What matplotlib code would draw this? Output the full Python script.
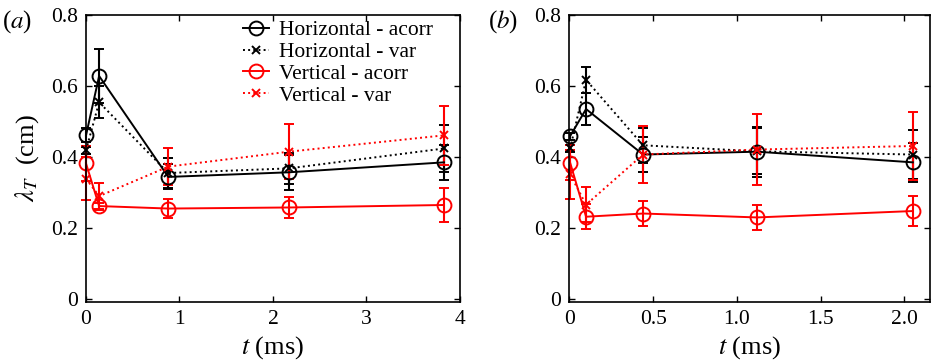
import matplotlib
matplotlib.use("Agg")
from matplotlib import pyplot as plt

plt.rcParams['font.family'] = ['Liberation Serif', 'DejaVu Serif']
plt.rcParams['mathtext.fontset'] = 'stix'

# panel (a)
t_a = [0.0, 0.14, 0.88, 2.17, 3.83]
h_acorr_a = [0.460, 0.627, 0.343, 0.356, 0.384]
h_acorr_a_err = [0.02, 0.075, 0.035, 0.049, 0.050]
h_var_a = [0.418, 0.553, 0.354, 0.367, 0.423]
h_var_a_err = [0.01, 0.045, 0.043, 0.044, 0.065]
v_acorr_a = [0.381, 0.261, 0.254, 0.257, 0.264]
v_acorr_a_err = [0.05, 0.010, 0.026, 0.030, 0.047]
v_var_a = [0.338, 0.289, 0.372, 0.414, 0.460]
v_var_a_err = [0.06, 0.037, 0.053, 0.078, 0.083]

# panel (b)
t_b = [0.005, 0.10, 0.44, 1.12, 2.05]
h_acorr_b = [0.458, 0.534, 0.406, 0.414, 0.384]
h_acorr_b_err = [0.01, 0.045, 0.050, 0.070, 0.055]
h_var_b = [0.423, 0.616, 0.432, 0.415, 0.406]
h_var_b_err = [0.01, 0.037, 0.050, 0.065, 0.070]
v_acorr_b = [0.383, 0.231, 0.240, 0.229, 0.247]
v_acorr_b_err = [0.05, 0.035, 0.035, 0.035, 0.042]
v_var_b = [0.350, 0.265, 0.406, 0.420, 0.430]
v_var_b_err = [0.07, 0.049, 0.080, 0.100, 0.095]

labels = ['Horizontal - acorr', 'Horizontal - var', 'Vertical - acorr', 'Vertical - var']

fig = plt.figure(figsize=(9.31, 3.63), dpi=100)
ax_a = fig.add_axes([0.0924, 0.169, 0.4016, 0.791])
ax_b = fig.add_axes([0.6115, 0.169, 0.3875, 0.791])


def draw(ax, t, series):
    styles = [('k', '-', 'o'), ('k', ':', 'x'), ('r', '-', 'o'), ('r', ':', 'x')]
    handles = []
    for (y, e), (c, ls, m), lab in zip(series, styles, labels):
        ms = 10 if m == 'o' else 6
        h = ax.errorbar(t, y, yerr=e, color=c, ls=ls, lw=1.4, marker=m, ms=ms,
                        mfc='none', mec=c, mew=1.4, elinewidth=1.5,
                        capsize=3.5, capthick=1.5, label=lab, clip_on=False)
        handles.append(h)
    ax.set_ylim(-0.008, 0.8)
    ax.set_yticks([0, 0.2, 0.4, 0.6, 0.8])
    ax.set_yticklabels(['0', '0.2', '0.4', '0.6', '0.8'])
    ax.tick_params(direction='in', which='both', top=True, right=True,
                   labelsize=15.5, length=4, width=1, pad=6)
    for s in ax.spines.values():
        s.set_linewidth(1.2)
    ax.set_xlabel(r'$t$ (ms)', fontsize=19, labelpad=4)
    return handles


hs = draw(ax_a, t_a, [(h_acorr_a, h_acorr_a_err), (h_var_a, h_var_a_err),
                      (v_acorr_a, v_acorr_a_err), (v_var_a, v_var_a_err)])
ax_a.set_xlim(0, 4)
ax_a.set_xticks([0, 1, 2, 3, 4])
ax_a.set_ylabel(r'$\lambda_T$  (cm)', fontsize=19, labelpad=7)
leg_handles = [h[0] for h in hs]
ax_a.legend(leg_handles, labels, loc='upper left', bbox_to_anchor=(0.42, 0.98),
            frameon=False, fontsize=15.5, handlelength=1.2, handletextpad=0.45,
            labelspacing=0.08, borderaxespad=0, borderpad=0)
ax_a.text(-0.225, 0.955, r'($a$)', transform=ax_a.transAxes, fontsize=18)

draw(ax_b, t_b, [(h_acorr_b, h_acorr_b_err), (h_var_b, h_var_b_err),
                 (v_acorr_b, v_acorr_b_err), (v_var_b, v_var_b_err)])
ax_b.set_xlim(0, 2.153)
ax_b.set_xticks([0, 0.5, 1.0, 1.5, 2.0])
ax_b.set_xticklabels(['0', '0.5', '1.0', '1.5', '2.0'])
ax_b.text(-0.225, 0.955, r'($b$)', transform=ax_b.transAxes, fontsize=18)

fig.savefig('out.png', dpi=100)
